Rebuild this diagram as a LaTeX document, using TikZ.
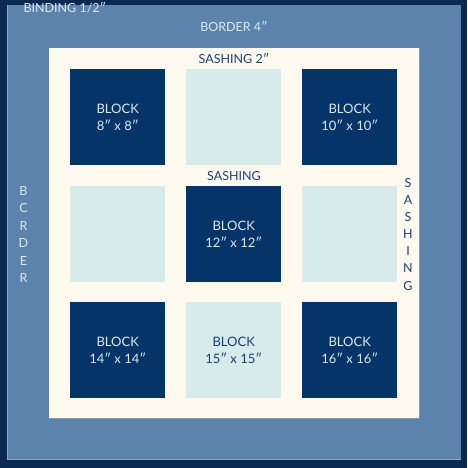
\documentclass[tikz,border=0pt]{standalone}
\usepackage{fontspec}
\setmainfont{Lato}
\definecolor{binding}{HTML}{0B2A52}
\definecolor{bordercol}{HTML}{5C83AC}
\definecolor{cream}{HTML}{FFFAEF}
\definecolor{darkblock}{HTML}{053468}
\definecolor{lightblock}{HTML}{D7EBEB}
\definecolor{navytext}{HTML}{1E3F78}
\definecolor{paletext}{HTML}{DCE8F2}
\tikzset{
  darksq/.style={fill=darkblock, draw=none, minimum width=95pt, minimum height=96pt, inner sep=0pt, anchor=north west},
  lightsq/.style={fill=lightblock, draw=none, minimum width=95pt, minimum height=96pt, inner sep=0pt, anchor=north west},
  darklab/.style={text=paletext, font=\fontsize{13}{17}\selectfont, align=center},
  lightlab/.style={text=navytext, font=\fontsize{13}{17}\selectfont, align=center},
  bordlab/.style={text=paletext, font=\fontsize{12.5}{14}\selectfont},
  sashlab/.style={text=navytext, font=\fontsize{12.5}{14}\selectfont},
  vlet/.style={font=\fontsize{12.5}{14}\selectfont, inner sep=0pt}
}
\begin{document}
\begin{tikzpicture}[x=1pt,y=-1pt]
\useasboundingbox (0,0) rectangle (467,468);
\fill[binding] (0,0) rectangle (467,468);
\fill[bordercol] (7,5) rectangle (461,460);
\draw[bordercol!70!white, line width=0.8pt] (7.4,5) -- (7.4,459.6) -- (461,459.6);
\fill[cream] (49,48) rectangle (419,418);
\draw[bordercol!60!black!60, line width=0.6pt] (49,418) -- (419,418) -- (419,48);
% blocks
\node[darksq] (b1) at (70,69) {};
\node[lightsq] (b2) at (186,69) {};
\node[darksq] (b3) at (302,69) {};
\node[lightsq] (b4) at (70,186) {};
\node[darksq] (b5) at (186,186) {};
\node[lightsq] (b6) at (302,186) {};
\node[darksq] (b7) at (70,302) {};
\node[lightsq] (b8) at (186,302) {};
\node[darksq] (b9) at (302,302) {};
\node[darklab] (t1) at (b1.center) {BLOCK\\8″ x 8″};
\node[darklab] (t3) at (b3.center) {BLOCK\\10″ x 10″};
\node[darklab] (t5) at (b5.center) {BLOCK\\12″ x 12″};
\node[darklab] (t7) at (b7.center) {BLOCK\\14″ x 14″};
\node[lightlab] (t8) at (b8.center) {BLOCK\\15″ x 15″};
\node[darklab] (t9) at (b9.center) {BLOCK\\16″ x 16″};
% labels
\node[bordlab, anchor=west] (bind) at (20,8) {BINDING 1/2″};
\node[bordlab] (bord) at (234,27) {BORDER 4″};
\node[sashlab] (sash2) at (234,59) {SASHING 2″};
\node[sashlab] (sashm) at (234,176) {SASHING};
\foreach \l [count=\i] in {S,A,S,H,I,N,G}
  \node[vlet, text=navytext] (r\i) at (408,{183+17.1*(\i-1)}) {\l};
\foreach \l [count=\i] in {B,C,R,D,E,R}
  \node[vlet, text=paletext] (l\i) at (23.5,{191+17.4*(\i-1)}) {\l};
\end{tikzpicture}
\end{document}
